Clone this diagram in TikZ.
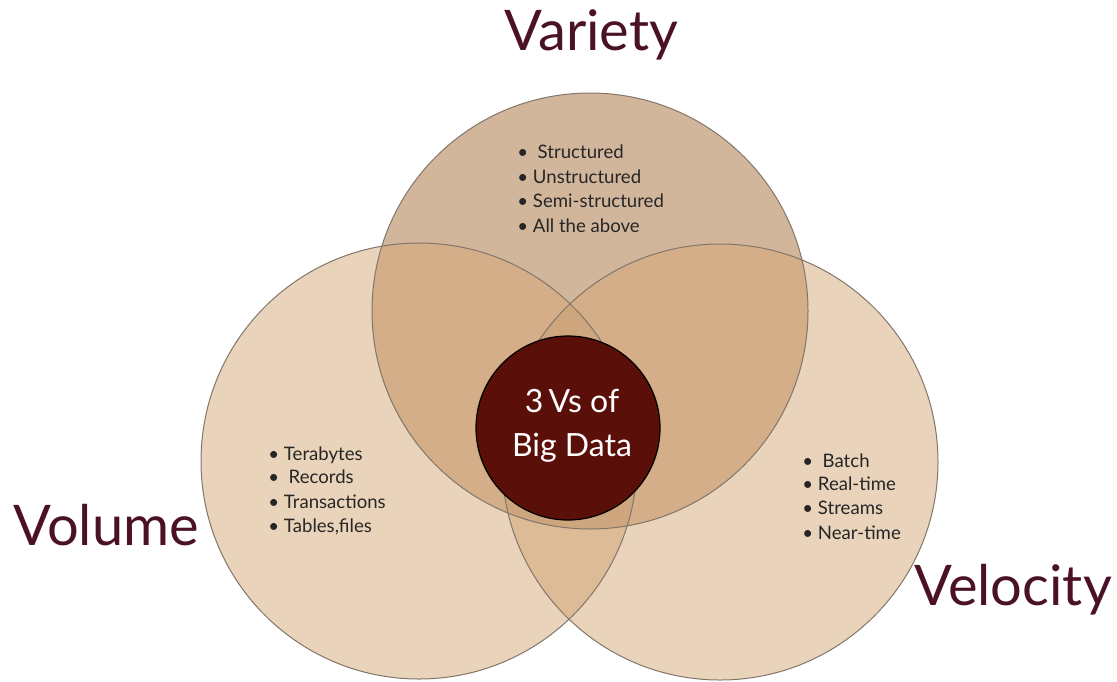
\documentclass[tikz,border=0pt]{standalone}
\usepackage{fontspec}
\setmainfont{Lato}
\definecolor{volfill}{RGB}{233,211,186}
\definecolor{varfill}{RGB}{209,182,156}
\definecolor{varvol}{RGB}{211,174,136}
\definecolor{volvel}{RGB}{221,187,151}
\definecolor{triple}{RGB}{206,166,126}
\definecolor{coredark}{RGB}{90,15,8}
\definecolor{titlecol}{RGB}{75,18,38}
\definecolor{edgecol}{RGB}{130,118,106}
\tikzset{
  ring/.style={draw=edgecol, line width=0.5pt},
  title/.style={font=\fontsize{28}{31}\selectfont, text=titlecol, inner sep=0pt},
  item/.style={font=\fontsize{9.3}{11}\selectfont, text=black!85, inner sep=0pt, anchor=base west},
  core/.style={circle, draw=black, line width=0.6pt, fill=coredark, minimum size=92pt, inner sep=0pt},
}
\begin{document}
\begin{tikzpicture}[x=0.5pt,y=-0.5pt]
\useasboundingbox (0,0) rectangle (1117,681);
\coordinate (cVar) at (590,311);
\coordinate (cVol) at (419,461);
\coordinate (cVel) at (720,462);
\def\R{109pt}
% single fills
\fill[volfill] (cVol) circle[radius=\R];
\fill[volfill] (cVel) circle[radius=\R];
\fill[varfill] (cVar) circle[radius=\R];
% pairwise overlaps
\begin{scope}
  \clip (cVol) circle[radius=\R];
  \fill[volvel] (cVel) circle[radius=\R];
  \fill[varvol] (cVar) circle[radius=\R];
\end{scope}
\begin{scope}
  \clip (cVel) circle[radius=\R];
  \fill[varvol] (cVar) circle[radius=\R];
\end{scope}
\begin{scope}
  \clip (cVol) circle[radius=\R];
  \clip (cVel) circle[radius=\R];
  \fill[triple] (cVar) circle[radius=\R];
\end{scope}
% outlines
\draw[ring] (cVol) circle[radius=\R];
\draw[ring] (cVel) circle[radius=\R];
\draw[ring] (cVar) circle[radius=\R];
% core
\node[core] (core) at (568,428) {};
\node[text=white, align=center, font=\fontsize{16}{22}\selectfont, inner sep=0pt] (coretext) at (572,426) {3\,Vs of\\Big Data};
% titles
\node[title, anchor=base west] (tVar) at (504,50) {Variety};
\node[title, anchor=base west] (tVol) at (13,545) {Volume};
\node[title, anchor=base west] (tVel) at (914,605) {Velocity};
% Variety items
\node[item] (var1) at (517,158) {•\ \ Structured};
\node[item] (var2) at (517,183) {•\ Unstructured};
\node[item] (var3) at (517,207) {•\ Semi-structured};
\node[item] (var4) at (517,232) {•\ All the above};
% Volume items
\node[item] (vol1) at (268,460) {•\ Terabytes};
\node[item] (vol2) at (268,483) {•\ \ Records};
\node[item] (vol3) at (268,508) {•\ Transactions};
\node[item] (vol4) at (268,532) {•\ Tables,files};
% Velocity items
\node[item] (vel1) at (802,467) {•\ \ Batch};
\node[item] (vel2) at (802,490) {•\ Real-time};
\node[item] (vel3) at (802,514) {•\ Streams};
\node[item] (vel4) at (802,539) {•\ Near-time};
\end{tikzpicture}
\end{document}
